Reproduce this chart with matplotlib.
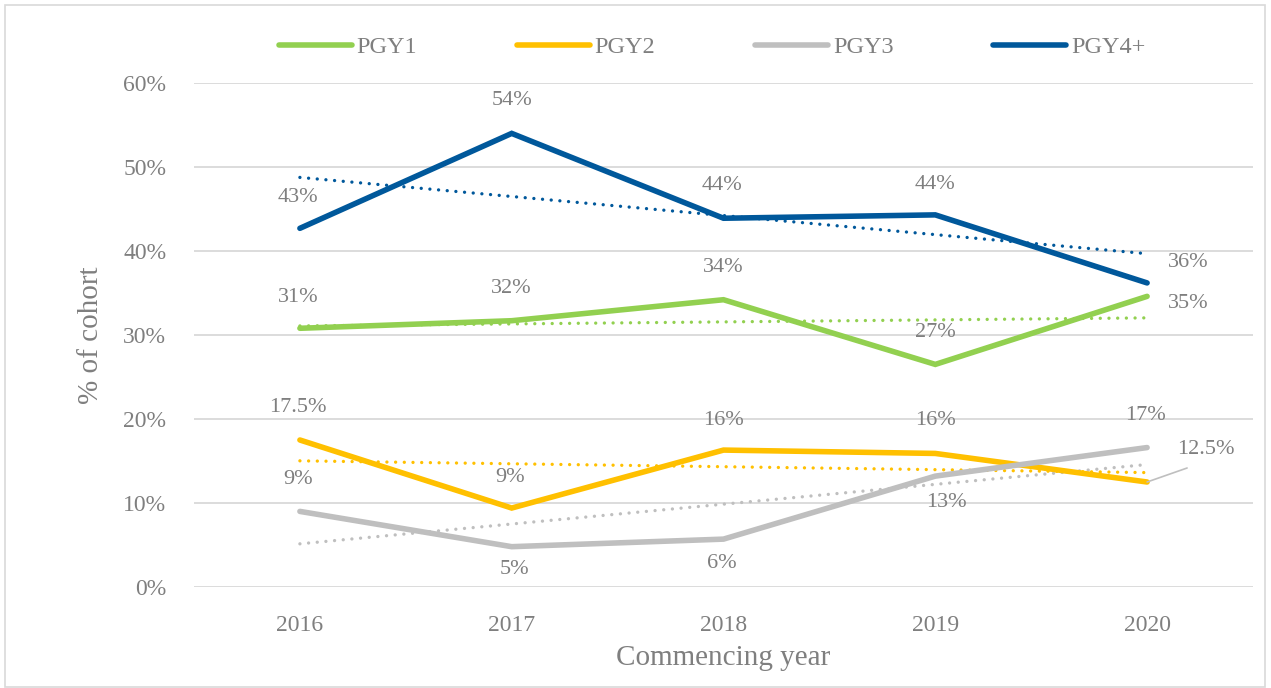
import numpy as np
import matplotlib
matplotlib.use("Agg")
import matplotlib.pyplot as plt
from matplotlib.patches import Rectangle

plt.rcParams['font.family'] = ['Liberation Serif', 'DejaVu Serif']

years = ["2016", "2017", "2018", "2019", "2020"]
series_names = ["PGY1", "PGY2", "PGY3", "PGY4+"]
pgy1 = [30.8, 31.7, 34.2, 26.5, 34.6]
pgy2 = [17.5, 9.4, 16.3, 15.9, 12.5]
pgy3 = [9.0, 4.8, 5.7, 13.2, 16.6]
pgy4 = [42.7, 54.0, 43.9, 44.3, 36.2]
pgy1_labels = ["31%", "32%", "34%", "27%", "35%"]
pgy2_labels = ["17.5%", "9%", "16%", "16%", "12.5%"]
pgy3_labels = ["9%", "5%", "6%", "13%", "17%"]
pgy4_labels = ["43%", "54%", "44%", "44%", "36%"]
yticks = [0, 10, 20, 30, 40, 50, 60]
ytick_labels = ["0%", "10%", "20%", "30%", "40%", "50%", "60%"]

colors = ["#92D050", "#FFC000", "#BFBFBF", "#00589B"]
values = [pgy1, pgy2, pgy3, pgy4]
labels = [pgy1_labels, pgy2_labels, pgy3_labels, pgy4_labels]
# label offsets in pixels (dx, dy)
offsets = [
    [(-2, 31), (0, 32), (0, 32), (0, 32), (30, -7)],
    [(-2, 32), (-2, 31), (0, 30), (0, 33), (39, 32)],
    [(-2, 32), (3, -23), (-2, -24), (11, -26), (-2, 32)],
    [(-2, 31), (0, 33), (-2, 33), (0, 30), (30, 20)],
]
has = [
    ['center', 'center', 'center', 'center', 'left'],
    ['center', 'center', 'center', 'center', 'left'],
    ['center', 'center', 'center', 'center', 'center'],
    ['center', 'center', 'center', 'center', 'left'],
]

W, H = 1271, 688
fig = plt.figure(figsize=(W / 100, H / 100), dpi=100)
fig.patch.set_facecolor("white")
fig.patches.append(Rectangle((5 / W, 1 / H), 1260 / W, 682 / H, transform=fig.transFigure,
                             fill=False, edgecolor="#d9d9d9", linewidth=1.2, zorder=0))

ax = fig.add_axes([194 / W, 1 - 587 / H, (1253 - 194) / W, (587 - 83) / H])
x = np.arange(len(years))
txtcol = "#7f7f7f"

handles = []
for i, (vals, col) in enumerate(zip(values, colors)):
    # trendline
    k, b = np.polyfit(x, vals, 1)
    ax.plot(x, k * x + b, color=col, lw=2.4, linestyle=(0, (0.01, 2.6)),
            dash_capstyle='round', zorder=2)
for i, (vals, col) in enumerate(zip(values, colors)):
    h, = ax.plot(x, vals, color=col, lw=4.0, solid_capstyle='round',
                 solid_joinstyle='miter', zorder=3, label=series_names[i])
    handles.append(h)
    for j, (v, lab) in enumerate(zip(vals, labels[i])):
        dx, dy = offsets[i][j]
        if has[i][j] == 'left':
            ax.annotate(lab, (x[j], v), xytext=(dx - 9, dy), textcoords='offset pixels',
                        ha='left', va='center', fontsize=16, color=txtcol, zorder=5)
        else:
            ax.annotate(lab, (x[j], v), xytext=(dx, dy), textcoords='offset pixels',
                        ha='center', va='center', fontsize=16, color=txtcol, zorder=5)

# leader line for 12.5%
ax.annotate('', xy=(x[4], pgy2[4]), xytext=(40, 14), textcoords='offset pixels',
            arrowprops=dict(arrowstyle='-', color="#BFBFBF", lw=1.2, shrinkA=0, shrinkB=0))

ax.set_xlim(-0.5, 4.5)
ax.set_ylim(0, 60)
ax.set_yticks(yticks)
ax.set_yticklabels(ytick_labels)
ax.set_xticks(x)
ax.set_xticklabels(years)
ax.grid(axis='y', color="#d9d9d9", lw=1.3)
ax.set_axisbelow(True)
for s in ax.spines.values():
    s.set_visible(False)
ax.tick_params(axis='both', length=0, labelsize=17, colors=txtcol)
ax.tick_params(axis='y', pad=20)
ax.tick_params(axis='x', pad=20)
ax.set_ylabel("% of cohort", fontsize=21, color=txtcol)
ax.set_xlabel("Commencing year", fontsize=21, color=txtcol)
ax.yaxis.set_label_coords(-0.085, 0.5)
ax.xaxis.set_label_coords(0.5, -0.115)

fig.legend(handles=handles, loc='center', bbox_to_anchor=(712 / W, 1 - 47 / H), ncol=4,
           frameon=False, fontsize=17.5, handlelength=3.0, handletextpad=0.2,
           columnspacing=4.1, labelcolor=txtcol)

fig.savefig("out.png", dpi=100, facecolor="white")
